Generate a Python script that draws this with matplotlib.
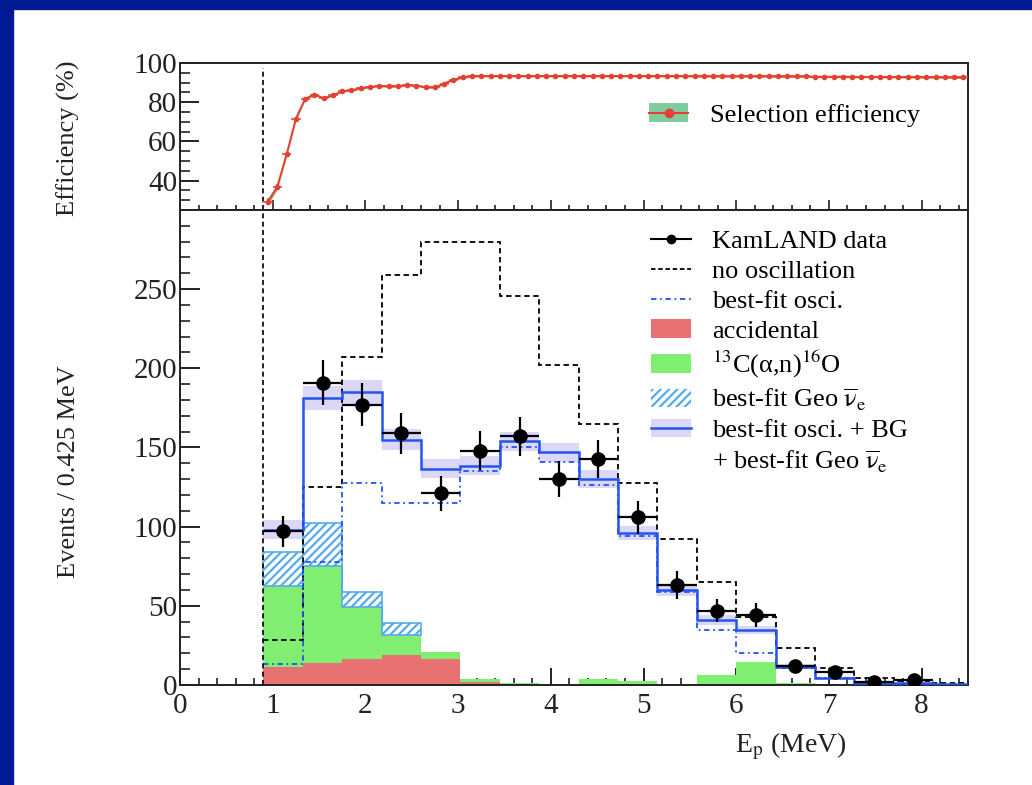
import numpy as np
import matplotlib
matplotlib.use('Agg')
import matplotlib.pyplot as plt
from matplotlib.patches import Patch, Rectangle
from matplotlib.lines import Line2D
from matplotlib.ticker import MultipleLocator, FixedLocator

plt.rcParams['font.family'] = ['Liberation Serif', 'DejaVu Serif']
plt.rcParams['mathtext.fontset'] = 'stix'
plt.rcParams['hatch.linewidth'] = 1.6

# prompt energy bins (MeV), 0.425 MeV wide above the 0.9 MeV threshold
edges = [0.9, 1.325, 1.75, 2.175, 2.6, 3.025, 3.45, 3.875, 4.3, 4.725,
         5.15, 5.575, 6.0, 6.425, 6.85, 7.275, 7.7, 8.125, 8.55]
threshold = 0.9

# events per bin
data = [97, 191, 177, 159, 121, 148, 157, 130, 143, 106, 63, 47, 44, 12, 8, 2, 3]
data_err = [10, 14, 13.5, 13, 11, 12.5, 12.5, 11.5, 12, 10.5, 8.7, 7, 7.5, 3.5, 3, 1.5, 2]
no_osc = [28.5, 125, 207, 259, 280, 280, 245.6, 202, 165, 127.6, 92.4, 64.8,
          43.2, 23.2, 10.6, 4.2, 2.5, 1.5]
best_osc = [13.3, 77.4, 127.6, 115, 115, 135, 150, 141, 126.6, 93.9, 59, 34.8,
            20, 10.5, 4.4, 1.5, 0.8, 0.3]
fit_total = [98, 181.4, 185, 155, 136.5, 138.6, 154, 147, 130, 96, 60, 41,
             34.5, 11.6, 4.2, 1.5, 1, 0.5]
fit_err = [6, 7.5, 7.5, 6.5, 6, 6, 6, 6, 5.5, 4.5, 3.5, 3, 2.5, 1.5, 1, 0.5, 0.5, 0.3]
accidental = [11.2, 13.7, 16.2, 19, 16.2, 2.1, 0.5, 0, 0, 0, 0, 0, 0, 0, 0, 0, 0, 0]
c13 = [51.5, 61.6, 33, 12.4, 4.9, 1.5, 0.5, 0, 3.8, 2.7, 0, 6.3, 14.8, 1.5, 0, 0, 0, 0]
geo = [21, 26.8, 9.5, 7.6, 0, 0, 0, 0, 0, 0, 0, 0, 0, 0, 0, 0, 0, 0]

# selection efficiency (%) sampled every 0.1 MeV
eff_e = np.round(np.arange(0.95, 8.46, 0.1), 2)
eff = [29.3, 36.9, 53.4, 71.5, 81.7, 83.9, 82.0, 83.4, 85.6, 86.1,
       87.0, 87.8, 88.3, 88.0, 88.1, 88.7, 88.5, 87.6, 87.5, 89.5,
       91.5, 92.6, 93.2,
       93.3, 93.3, 93.3, 93.3, 93.3, 93.3, 93.3, 93.3, 93.3, 93.3,
       93.3, 93.3, 93.3, 93.3, 93.3, 93.3, 93.3, 93.3, 93.3, 93.3,
       93.3, 93.3, 93.3, 93.2, 93.2, 93.2, 93.2, 93.2, 93.2, 93.2,
       93.2, 93.2, 93.1, 93.1, 93.1, 93.1, 93.0, 93.0, 93.0, 93.0,
       92.9, 92.9, 92.9, 92.9, 92.8, 92.8, 92.8, 92.8, 92.7, 92.7,
       92.7, 92.6, 92.6]
eff_err_low = [1.8, 1.5, 1.2, 1.0, 0.8]

edges = np.array(edges)
centers = 0.5 * (edges[:-1] + edges[1:])
half_w = 0.5 * (edges[1] - edges[0])
eff = np.array(eff)
eff_err = np.concatenate([eff_err_low, np.full(len(eff) - len(eff_err_low), 0.5)])
accidental = np.array(accidental)
c13 = np.array(c13)
geo = np.array(geo)
fit_total = np.array(fit_total)
fit_err = np.array(fit_err)

RED = '#e84030'
BLUE = '#2255ee'
GEO = '#55aaee'
spine_c = '#222222'
nubar = r'$\overline{\mathrm{\nu}}_{\rm e}$'

fig = plt.figure(figsize=(10.32, 7.85), dpi=100)
fig.patches.append(Rectangle((0, 0), 13 / 1032, 1, transform=fig.transFigure,
                             color='#001a93', zorder=0))
fig.patches.append(Rectangle((0, 1 - 9 / 785), 1, 9 / 785, transform=fig.transFigure,
                             color='#001a93', zorder=0))

ax_eff = fig.add_axes([0.1744, 0.7325, 0.7636, 0.1873])
ax = fig.add_axes([0.1744, 0.1274, 0.7636, 0.6051])

# ---- efficiency panel
ax_eff.fill_between(eff_e, eff - eff_err, eff + eff_err, color='#7fcca0', lw=0, zorder=1)
ax_eff.errorbar(eff_e, eff, xerr=0.05, yerr=eff_err, fmt='-o', color=RED, ms=3,
                lw=1.4, elinewidth=1.1, capsize=0, zorder=3)
ax_eff.axvline(threshold, ymax=0.965, color='k', ls=(0, (3, 2)), lw=1.2, zorder=2)
ax_eff.set_xlim(0, 8.5)
ax_eff.set_ylim(25, 100)
ax_eff.xaxis.set_major_locator(MultipleLocator(1))
ax_eff.xaxis.set_minor_locator(MultipleLocator(0.2))
ax_eff.yaxis.set_major_locator(FixedLocator([40, 60, 80, 100]))
ax_eff.yaxis.set_minor_locator(MultipleLocator(5))
ax_eff.tick_params(which='both', direction='in', top=False, right=False,
                   labelbottom=False, labelsize=21, color=spine_c, labelcolor='#222222')
ax_eff.tick_params(axis='y', which='major', length=14, width=1.4, pad=2)
ax_eff.tick_params(axis='y', which='minor', length=7, width=1.2)
ax_eff.tick_params(axis='x', which='major', length=7, width=1.2)
ax_eff.tick_params(axis='x', which='minor', length=3.6, width=1.2)
ax_eff.set_ylabel('Efficiency (%)', fontsize=19, color='#222222')
ax_eff.yaxis.set_label_coords(-0.127, 0.49)

eff_handle = (Patch(fc='#7fcca0', ec='none'),
              Line2D([], [], color=RED, marker='o', ms=6, lw=1.5))
ax_eff.legend([eff_handle], ['Selection efficiency'], loc='center left',
              bbox_to_anchor=(0.595, 0.646), frameon=False, fontsize=19,
              borderpad=0, borderaxespad=0, handlelength=1.5, handletextpad=0.8)

# ---- spectrum panel
ax.stairs(fit_total + fit_err, edges, baseline=fit_total - fit_err, fill=True,
          color='#dcd6f7', lw=0, zorder=1)

ax.stairs(accidental, edges, baseline=0, fill=True, color='#e87272', lw=0, zorder=2)
ax.stairs(accidental + c13, edges, baseline=accidental, fill=True, color='#80ee70',
          lw=0, zorder=2)
n_geo = np.nonzero(geo)[0][-1] + 1
ax.stairs((accidental + c13 + geo)[:n_geo], edges[:n_geo + 1],
          baseline=(accidental + c13)[:n_geo], fill=True, facecolor='white',
          edgecolor=GEO, hatch='////', lw=1.2, zorder=2)

ax.stairs(no_osc, edges, baseline=None, color='k', ls=(0, (3, 2)), lw=1.3, zorder=3)
ax.stairs(best_osc, edges, baseline=None, color=BLUE, ls=(0, (3, 2, 1, 2)), lw=1.3, zorder=3)
ax.stairs(fit_total, edges, baseline=None, color=BLUE, lw=1.8, zorder=3)
ax.axvline(threshold, color='k', ls=(0, (3, 2)), lw=1.2, zorder=3)

ax.errorbar(centers[:len(data)], data, xerr=half_w, yerr=data_err, fmt='o',
            color='k', ms=9.5, elinewidth=1.6, capsize=0, zorder=4)

ax.set_xlim(0, 8.5)
ax.set_ylim(0, 300)
ax.xaxis.set_major_locator(MultipleLocator(1))
ax.xaxis.set_minor_locator(MultipleLocator(0.2))
ax.yaxis.set_major_locator(FixedLocator([0, 50, 100, 150, 200, 250]))
ax.yaxis.set_minor_locator(MultipleLocator(10))
ax.tick_params(which='both', direction='in', top=False, right=False,
               labelsize=21, color=spine_c, labelcolor='#222222')
ax.tick_params(axis='y', which='major', length=14.4, width=1.4, pad=2)
ax.tick_params(axis='y', which='minor', length=7, width=1.2)
ax.tick_params(axis='x', which='major', length=12, width=1.4, pad=6)
ax.tick_params(axis='x', which='minor', length=5, width=1.2)
ax.set_xlabel(r'E$_{\rm p}$ (MeV)', fontsize=20, color='#222222')
ax.xaxis.set_label_coords(0.775, -0.095)
ax.set_ylabel('Events / 0.425 MeV', fontsize=19, color='#222222')
ax.yaxis.set_label_coords(-0.127, 0.45)

for a in (ax, ax_eff):
    for s in a.spines.values():
        s.set_linewidth(1.4)
        s.set_color(spine_c)

handles = [
    Line2D([], [], color='k', marker='o', ms=6, lw=1.5),
    Line2D([], [], color='k', ls=(0, (2.5, 1.5)), lw=1.3),
    Line2D([], [], color=BLUE, ls=(0, (3, 2, 1, 2)), lw=1.3),
    Patch(fc='#e87272', ec='none'),
    Patch(fc='#80ee70', ec='none'),
    Patch(fc='white', ec=GEO, hatch='////', lw=0),
    (Patch(fc='#dcd6f7', ec='none'), Line2D([], [], color=BLUE, lw=1.8)),
    Line2D([], [], alpha=0),
]
labels = [
    'KamLAND data',
    'no oscillation',
    'best-fit osci.',
    'accidental',
    r'$^{13}$C(α,n)$^{16}$O',
    'best-fit Geo ' + nubar,
    'best-fit osci. + BG',
    '+ best-fit Geo ' + nubar,
]
ax.legend(handles, labels, loc='upper left', bbox_to_anchor=(0.598, 0.958),
          frameon=False, fontsize=19, borderpad=0, borderaxespad=0,
          handlelength=1.5, handletextpad=0.8, labelspacing=0.24)

fig.savefig('out.png', dpi=100, facecolor='white')
